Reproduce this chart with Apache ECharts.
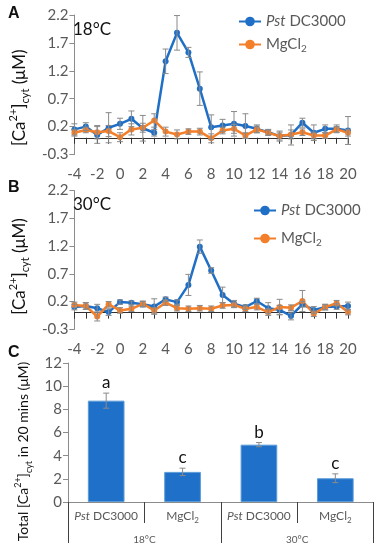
<!DOCTYPE html>
<html><head><meta charset="utf-8">
<script src="https://cdn.jsdelivr.net/npm/echarts@6/dist/echarts.min.js"></script>
<style>html,body{margin:0;padding:0;background:#fff}#c{width:384px;height:550px}</style>
</head><body><div id="c"></div>
<script>
// ---------- data ----------
const minutes = [-4,-3,-2,-1,0,1,2,3,4,5,6,7,8,9,10,11,12,13,14,15,16,17,18,19,20];
// Panel A (18 °C)
const pstA    = [0.15,0.2,0.05,0.18,0.25,0.34,0.17,0.09,1.37,1.88,1.53,0.88,0.19,0.22,0.25,0.21,0.16,0.1,0.03,0.05,0.27,0.09,0.16,0.16,0.13];
const pstAErr = [0.1,0.07,0.15,0.27,0.1,0.14,0.23,0.06,0.22,0.31,0.09,0.3,0.22,0.11,0.22,0.22,0.07,0.05,0.09,0.18,0.08,0.14,0.07,0.07,0.25];
const mgA     = [0.09,0.14,0.1,0.12,0.01,0.15,0.18,0.31,0.11,0.06,0.11,0.11,-0.01,0.13,0.16,0.04,0.15,0.09,0.03,0.06,0.1,0.04,0.04,0.15,0.09];
const mgAErr  = [0.06,0.05,0.12,0.1,0.08,0.1,0.08,0.12,0.08,0.08,0.05,0.06,0.08,0.06,0.08,0.05,0.06,0.05,0.07,0.08,0.06,0.06,0.05,0.05,0.06];
// Panel B (30 °C)
const pstB    = [0.1,0.12,0.08,0.01,0.19,0.18,0.15,0.11,0.24,0.19,0.5,1.19,0.76,0.32,0.16,0.1,0.21,0.08,0.05,-0.06,0.15,0.05,0.1,0.11,0.12];
const pstBErr = [0.05,0.06,0.07,0.06,0.04,0.03,0.05,0.14,0.04,0.04,0.19,0.12,0.05,0.14,0.06,0.04,0.05,0.1,0.08,0.07,0.05,0.06,0.05,0.05,0.07];
const mgB     = [0.14,0.12,-0.07,0.15,0.04,0.07,0.16,0.04,0.18,0.08,0.07,0.08,0.07,0.13,0.14,0.07,0.1,0.01,0.1,0.09,0.21,-0.02,0.1,0.17,0.01];
const mgBErr  = [0.05,0.06,0.08,0.05,0.05,0.05,0.05,0.05,0.05,0.05,0.05,0.05,0.05,0.05,0.05,0.05,0.05,0.06,0.14,0.05,0.19,0.05,0.05,0.05,0.05];
// Panel C
const barCategories = ['Pst DC3000','MgCl2','Pst DC3000','MgCl2'];
const temperatures = ['18°C','30°C'];
const totals    = [8.75, 2.6, 4.95, 2.05];
const totalsErr = [0.65, 0.32, 0.18, 0.38];
const letters   = ['a','c','b','c'];
const seriesNames = ['Pst DC3000','MgCl2'];

// ---------- style ----------
const FONT = 'Lato, "Liberation Sans", sans-serif';
const BLUE = '#1f6fc6';
const ORANGE = '#f47f2a';
const GREY_TXT = '#595959';
const ERR = '#8a8a8a';

function nameRich(ncs) {
  return {
    n: {fontSize: ncs, fontFamily: FONT, color: '#111', verticalAlign: 'middle', lineHeight: ncs + 6},
    p: {fontSize: Math.round(ncs*0.62), fontFamily: FONT, color: '#111', verticalAlign: 'top', lineHeight: ncs*0.62 + 2},
    b: {fontSize: Math.round(ncs*0.62), fontFamily: FONT, color: '#111', verticalAlign: 'bottom', lineHeight: ncs*0.62 + 2}
  };
}
function fmtSeries(name) {
  if (name === 'Pst DC3000') return '{i|Pst}{t| DC3000}';
  if (name === 'MgCl2') return '{t|MgCl}{s|2}';
  return name;
}
function legendRich(fs) {
  return {
    i: {fontStyle: 'italic', fontSize: fs, fontFamily: FONT, color: GREY_TXT, verticalAlign: 'middle', lineHeight: fs + 4},
    t: {fontSize: fs, fontFamily: FONT, color: GREY_TXT, verticalAlign: 'middle', lineHeight: fs + 4},
    s: {fontSize: Math.round(fs*0.65), fontFamily: FONT, color: GREY_TXT, verticalAlign: 'bottom', lineHeight: fs*0.65 + 1}
  };
}

function errData(vals, errs, xs) {
  return vals.map((v, i) => [xs ? xs[i] : i, v - errs[i], v + errs[i]]);
}
function errRender(withLetters) {
  return function (params, api) {
    const x = api.value(0), lo = api.value(1), hi = api.value(2);
    const p1 = api.coord([x, hi]), p2 = api.coord([x, lo]);
    const w = 3;
    const st = {stroke: ERR, lineWidth: 1};
    const children = [
      {type: 'line', shape: {x1: p1[0], y1: p1[1], x2: p2[0], y2: p2[1]}, style: st},
      {type: 'line', shape: {x1: p1[0]-w, y1: p1[1], x2: p1[0]+w, y2: p1[1]}, style: st},
      {type: 'line', shape: {x1: p2[0]-w, y1: p2[1], x2: p2[0]+w, y2: p2[1]}, style: st}
    ];
    if (withLetters) {
      children.push({type: 'text', x: p1[0], y: p1[1] - 2,
        style: {text: letters[params.dataIndex], fill: '#111', font: '17px ' + FONT, align: 'center', verticalAlign: 'bottom'}});
    }
    return {type: 'group', children};
  };
}

function lineXAxis(grid) {
  return {type: 'value', gridIndex: grid, min: -4, max: 20, interval: 1,
    axisLine: {onZero: true, lineStyle: {color: '#303030', width: 1}},
    axisTick: {show: true, inside: false, length: 6, lineStyle: {color: '#303030'}},
    axisLabel: {show: false}, splitLine: {show: false}};
}
function labelXAxis(grid, margin) {
  return {type: 'value', gridIndex: grid, min: -4, max: 20, interval: 2, position: 'bottom',
    axisLine: {show: false, onZero: false}, axisTick: {show: false}, splitLine: {show: false},
    axisLabel: {show: true, margin: margin, fontSize: 15, fontFamily: FONT, color: GREY_TXT}};
}
function lineYAxis(grid, shift) {
  return {type: 'value', gridIndex: grid, min: -0.3, max: 2.2, interval: 0.5,
    axisLine: {show: true, onZero: false, lineStyle: {color: '#8c8c8c'}},
    axisTick: {show: true, length: 5, lineStyle: {color: '#8c8c8c'}},
    splitLine: {show: false},
    axisLabel: {fontSize: 15, fontFamily: FONT, color: GREY_TXT, margin: 6, formatter: v => v.toFixed(1)},
    name: '{n|[Ca}{p|2+}{n|]}{b|cyt}{n| (μM)}', nameLocation: 'middle', nameRotate: 90, nameGap: 41,
    nameTextStyle: {rich: nameRich(17), padding: [0, shift, 0, 0]}};
}

function lineSeries(name, data, xA, yA, color) {
  return {type: 'line', name, xAxisIndex: xA, yAxisIndex: yA, data: data.map((v, i) => [minutes[i], v]),
    symbol: 'circle', symbolSize: 6, showSymbol: true,
    lineStyle: {color, width: 2.5}, itemStyle: {color}, z: 3, animation: false};
}
function errSeries(vals, errs, xA, yA) {
  return {type: 'custom', xAxisIndex: xA, yAxisIndex: yA, data: errData(vals, errs, minutes),
    renderItem: errRender(false), z: 4, animation: false, silent: true};
}

const chart = echarts.init(document.getElementById('c'), null, {renderer: 'canvas'});
chart.setOption({
  animation: false,
  backgroundColor: '#fff',
  textStyle: {fontFamily: FONT},
  title: [
    {text: 'A', left: 8, top: 6, padding: 0, textStyle: {fontSize: 16, fontWeight: 'bold', color: '#111', fontFamily: 'Liberation Sans'}},
    {text: '18°C', left: 73, top: 21, padding: 0, textStyle: {fontSize: 17, fontWeight: 'normal', color: '#111', fontFamily: FONT}},
    {text: 'B', left: 8, top: 180, padding: 0, textStyle: {fontSize: 16, fontWeight: 'bold', color: '#111', fontFamily: 'Liberation Sans'}},
    {text: '30°C', left: 73, top: 196, padding: 0, textStyle: {fontSize: 17, fontWeight: 'normal', color: '#111', fontFamily: FONT}},
    {text: 'C', left: 8, top: 345, padding: 0, textStyle: {fontSize: 16, fontWeight: 'bold', color: '#111', fontFamily: 'Liberation Sans'}}
  ],
  legend: [
    {orient: 'vertical', left: 238, top: 14, itemWidth: 22, itemHeight: 12, itemGap: 8, padding: 0,
      data: seriesNames, formatter: fmtSeries, textStyle: {rich: legendRich(15)}},
    {orient: 'vertical', left: 253, top: 203, itemWidth: 22, itemHeight: 12, itemGap: 13, padding: 0,
      data: seriesNames, formatter: fmtSeries, textStyle: {rich: legendRich(15)}}
  ],
  grid: [
    {left: 67, top: 15, width: 281, height: 139.5},
    {left: 67, top: 190.6, width: 281, height: 138.7},
    {left: 68, top: 363, width: 305.5, height: 139}
  ],
  xAxis: [
    lineXAxis(0), labelXAxis(0, 12),
    lineXAxis(1), labelXAxis(1, 12),
    {type: 'category', gridIndex: 2, data: barCategories,
      axisLine: {show: true, lineStyle: {color: '#8c8c8c'}},
      axisTick: {show: true, interval: 0, length: 21, alignWithLabel: false, lineStyle: {color: '#404040'}},
      axisLabel: {interval: 0, margin: 6, formatter: fmtSeries, rich: legendRich(12)}},
    {type: 'category', gridIndex: 2, data: temperatures, position: 'bottom',
      axisLine: {show: false, onZero: false},
      axisTick: {show: true, interval: 0, length: 41, lineStyle: {color: '#404040'}},
      axisLabel: {interval: 0, margin: 33, fontSize: 10, fontFamily: FONT, color: GREY_TXT}}
  ],
  yAxis: [
    lineYAxis(0, 26), lineYAxis(1, 13),
    {type: 'value', gridIndex: 2, min: 0, max: 12, interval: 2,
      axisLine: {show: true, onZero: false, lineStyle: {color: '#8c8c8c'}},
      axisTick: {show: true, length: 5, lineStyle: {color: '#8c8c8c'}},
      splitLine: {show: false},
      axisLabel: {fontSize: 15, fontFamily: FONT, color: GREY_TXT, margin: 6},
      name: '{n|Total [Ca}{p|2+}{n|]}{b|cyt}{n| in 20 mins (μM)}', nameLocation: 'middle', nameRotate: 90, nameGap: 30,
      nameTextStyle: {rich: nameRich(14), padding: [0, 38, 0, 0]}}
  ],
  series: [
    lineSeries('Pst DC3000', pstA, 0, 0, BLUE),
    lineSeries('MgCl2', mgA, 0, 0, ORANGE),
    errSeries(pstA, pstAErr, 0, 0),
    errSeries(mgA, mgAErr, 0, 0),
    lineSeries('Pst DC3000', pstB, 2, 1, BLUE),
    lineSeries('MgCl2', mgB, 2, 1, ORANGE),
    errSeries(pstB, pstBErr, 2, 1),
    errSeries(mgB, mgBErr, 2, 1),
    {type: 'bar', xAxisIndex: 4, yAxisIndex: 2, data: totals, barWidth: '48%',
      itemStyle: {color: '#1f70c8', borderColor: '#5b9bd8', borderWidth: 1}, animation: false},
    {type: 'custom', xAxisIndex: 4, yAxisIndex: 2, data: totals.map((v, i) => [i, v - totalsErr[i], v + totalsErr[i]]),
      renderItem: errRender(true), z: 4, animation: false, silent: true}
  ]
});
</script></body></html>
